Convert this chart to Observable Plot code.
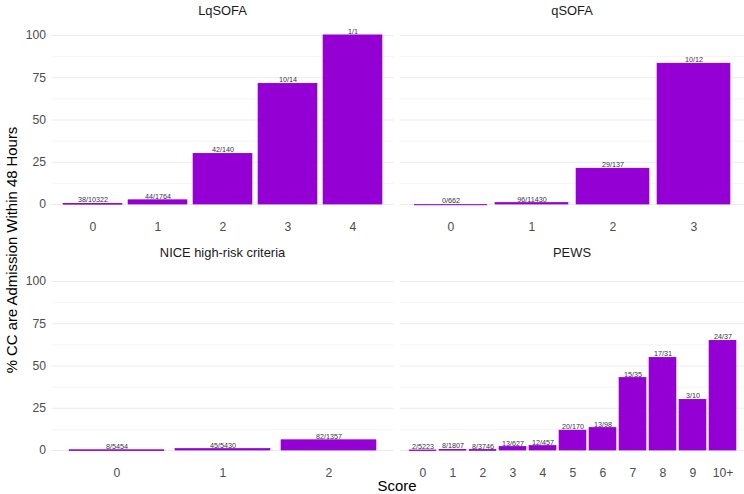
<!DOCTYPE html>
<html>
<head>
<meta charset="utf-8">
<script src="https://cdn.jsdelivr.net/npm/d3@7"></script>
<script src="https://cdn.jsdelivr.net/npm/@observablehq/plot@0.6"></script>
<style>
  html, body { margin: 0; padding: 0; background: #fff; }
  #chart { position: relative; width: 744px; height: 494px; font-family: "Liberation Sans", Arial, sans-serif; overflow: hidden; }
  .pnl { position: absolute; }
  .ttl { position: absolute; font-size: 12.9px; color: #1a1a1a; text-align: center; white-space: nowrap; transform: translate(-50%, -50%); }
  .ytitle { position: absolute; left: 12px; top: 250px; font-size: 14.9px; color: #000; white-space: nowrap; transform: translate(-50%, -50%) rotate(-90deg); }
  .xtitle { position: absolute; left: 397px; top: 486px; font-size: 14.9px; color: #000; transform: translate(-50%, -50%); }
</style>
</head>
<body>
<div id="chart"></div>
<script>
// ---- Data ----
const lqsofaScores = ["0", "1", "2", "3", "4"];
const lqsofaPct = [0.37, 2.49, 30.0, 71.4, 100];
const lqsofaLabels = ["38/10322", "44/1764", "42/140", "10/14", "1/1"];

const qsofaScores = ["0", "1", "2", "3"];
const qsofaPct = [0, 0.84, 21.2, 83.3];
const qsofaLabels = ["0/662", "96/11430", "29/137", "10/12"];

const niceScores = ["0", "1", "2"];
const nicePct = [0.15, 0.83, 6.04];
const niceLabels = ["8/5454", "45/5430", "82/1357"];

const pewsScores = ["0", "1", "2", "3", "4", "5", "6", "7", "8", "9", "10+"];
const pewsPct = [0.04, 0.44, 0.21, 2.07, 2.63, 11.8, 13.3, 42.9, 54.8, 30.0, 64.9];
const pewsLabels = ["2/5223", "8/1807", "8/3746", "13/627", "12/457", "20/170", "13/98", "15/35", "17/31", "3/10", "24/37"];

const yTicks = [0, 25, 50, 75, 100];
const yMinor = [12.5, 37.5, 62.5, 87.5];

const panelTitles = ["LqSOFA", "qSOFA", "NICE high-risk criteria", "PEWS"];
const yTitle = "% CC are Admission Within 48 Hours";
const xTitle = "Score";

// ---- Build ----
const chart = document.getElementById("chart");
const FILL = "#9400D3";

function panel(cats, vals, labels, o) {
  const data = cats.map((c, i) => ({score: c, pct: vals[i], label: labels[i]}));
  const marks = [
    Plot.ruleY(yMinor, {stroke: "#ebebeb", strokeWidth: 0.55}),
    Plot.ruleY(yTicks, {stroke: "#ebebeb", strokeWidth: 1.1}),
    Plot.barY(data, {x: "score", y: "pct", fill: FILL, stroke: FILL, strokeWidth: 0.6}),
    Plot.tickY(data, {x: "score", y: "pct", stroke: FILL, strokeWidth: 1.2, strokeOpacity: 0.85}),
    Plot.text(data, {x: "score", y: "pct", text: "label", lineAnchor: "bottom", dy: -1.5, fontSize: 7.2, fill: "#333333"}),
    Plot.axisX({tickSize: 0, tickPadding: 9, fontSize: 12.2, color: "#4d4d4d", label: null})
  ];
  if (o.showY) {
    marks.push(Plot.axisY({ticks: yTicks, tickSize: 0, tickPadding: 6, fontSize: 12.2, color: "#4d4d4d", label: null}));
  } else {
    marks.push(Plot.axisY({ticks: [], label: null}));
  }
  const svg = Plot.plot({
    width: o.width,
    height: o.height,
    marginLeft: o.ml,
    marginRight: o.mr,
    marginTop: o.mt,
    marginBottom: o.mb,
    style: {fontFamily: "Liberation Sans, Arial, sans-serif", background: "transparent", overflow: "visible"},
    x: {type: "band", domain: cats, paddingInner: 0.1, paddingOuter: 0.15, align: 0.5},
    y: {domain: [-5, 105]},
    marks
  });
  const wrap = document.createElement("div");
  wrap.className = "pnl";
  wrap.style.left = o.left + "px";
  wrap.style.top = o.top + "px";
  wrap.appendChild(svg);
  chart.appendChild(wrap);
}

// panel geometry: left panels plot area x 51.5..393.5, right 400..744
// top panels y 26.5..212.5, bottom 272.5..458.5
panel(lqsofaScores, lqsofaPct, lqsofaLabels, {left: 0, top: 0, width: 394, height: 240, ml: 51.5, mr: 0.5, mt: 26.5, mb: 27.5, showY: true});
panel(qsofaScores, qsofaPct, qsofaLabels, {left: 400, top: 0, width: 344, height: 240, ml: 0, mr: 0, mt: 26.5, mb: 27.5, showY: false});
panel(niceScores, nicePct, niceLabels, {left: 0, top: 246, width: 394, height: 240, ml: 51.5, mr: 0.5, mt: 26.5, mb: 27.5, showY: true});
panel(pewsScores, pewsPct, pewsLabels, {left: 400, top: 246, width: 344, height: 240, ml: 0, mr: 0, mt: 26.5, mb: 27.5, showY: false});

const titlePos = [[222.5, 10], [572, 10], [222.5, 252], [572, 252]];
panelTitles.forEach((t, i) => {
  const d = document.createElement("div");
  d.className = "ttl";
  d.style.left = titlePos[i][0] + "px";
  d.style.top = titlePos[i][1] + "px";
  d.textContent = t;
  chart.appendChild(d);
});

const yt = document.createElement("div");
yt.className = "ytitle";
yt.textContent = yTitle;
chart.appendChild(yt);

const xt = document.createElement("div");
xt.className = "xtitle";
xt.textContent = xTitle;
chart.appendChild(xt);
</script>
</body>
</html>
